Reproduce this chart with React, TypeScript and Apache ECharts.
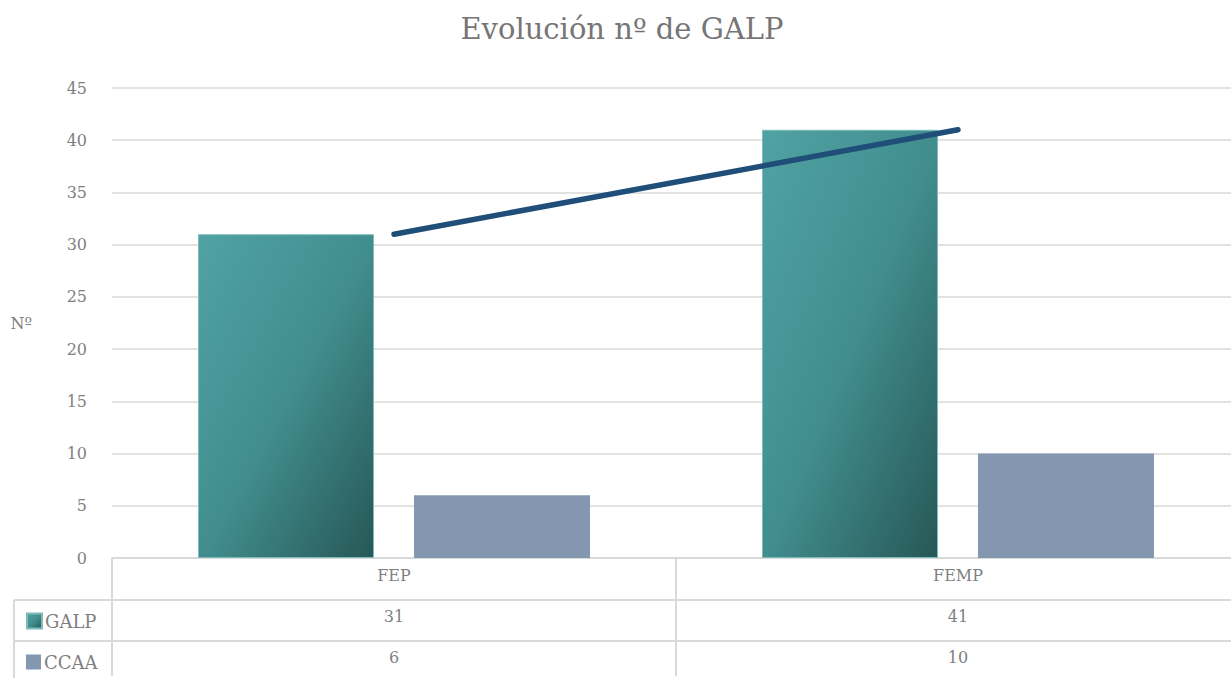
import React, { useEffect, useRef } from "react";
import * as echarts from "echarts";

const categories = ["FEP", "FEMP"];
const galp = [31, 41];
const ccaa = [6, 10];
const yTicks = { min: 0, max: 45, interval: 5 };

const FONT = "DejaVu Serif";
const GREY = "#7f7f7f";
const BORDER = "#d9d9d9";

export default function App() {
  const ref = useRef<HTMLDivElement>(null);
  useEffect(() => {
    if (!ref.current) return;
    const chart = echarts.init(ref.current, undefined, { renderer: "svg" });
    const galpGrad = new echarts.graphic.LinearGradient(0, 0, 1, 1, [
      { offset: 0, color: "#51a2a3" },
      { offset: 0.5, color: "#428e8f" },
      { offset: 1, color: "#275756" },
    ]);
    const legendBase = {
      orient: "horizontal",
      left: 21,
      itemWidth: 15,
      itemHeight: 15,
      icon: "rect",
      textStyle: { fontFamily: FONT, fontSize: 18, color: GREY, padding: [0, 0, 0, -2] },
    };
    chart.setOption({
      animation: false,
      textStyle: { fontFamily: FONT },
      title: {
        text: "Evolución nº de GALP",
        left: 617,
        textAlign: "center",
        top: 9,
        textStyle: { fontFamily: FONT, fontSize: 29, fontWeight: "normal", color: "#767676" },
      },
      grid: { left: 112, top: 88, bottom: 118, right: 0 },
      legend: [
        { ...legendBase, data: ["GALP"], top: 607 },
        { ...legendBase, data: ["CCAA"], top: 648 },
      ],
      xAxis: {
        type: "category",
        data: categories,
        axisLine: { lineStyle: { color: BORDER, width: 2 } },
        axisTick: { show: true, length: 118, lineStyle: { color: BORDER, width: 2 } },
        axisLabel: {
          margin: -3,
          lineHeight: 41,
          fontSize: 16,
          color: GREY,
          fontFamily: FONT,
          formatter: (v: string, i: number) => [v, String(galp[i]), String(ccaa[i])].join("\n"),
        },
      },
      yAxis: {
        type: "value",
        min: yTicks.min,
        max: yTicks.max,
        interval: yTicks.interval,
        name: "Nº",
        nameLocation: "middle",
        nameRotate: 0,
        nameGap: 80,
        nameTextStyle: { fontFamily: FONT, fontSize: 16, color: GREY },
        axisLine: { show: false },
        axisTick: { show: false },
        axisLabel: { margin: 25, fontSize: 16, color: GREY, fontFamily: FONT },
        splitLine: { lineStyle: { color: BORDER, width: 1.5 } },
      },
      series: [
        {
          name: "GALP",
          type: "bar",
          data: galp,
          barWidth: 176,
          barGap: "22.7%",
          itemStyle: { color: galpGrad, borderColor: "#7dbcbc", borderWidth: 1 },
        },
        {
          name: "CCAA",
          type: "bar",
          data: ccaa,
          barWidth: 176,
          itemStyle: { color: "#8497b0" },
        },
        {
          name: "Tendencia",
          type: "line",
          data: galp,
          symbol: "none",
          z: 5,
          lineStyle: { color: "#1f4e79", width: 5.5, cap: "round" },
        },
      ],
      graphic: [
        { type: "line", shape: { x1: 14, y1: 600, x2: 1240, y2: 600 }, style: { stroke: BORDER, lineWidth: 2 } },
        { type: "line", shape: { x1: 14, y1: 641, x2: 1240, y2: 641 }, style: { stroke: BORDER, lineWidth: 2 } },
        { type: "line", shape: { x1: 14, y1: 600, x2: 14, y2: 678 }, style: { stroke: BORDER, lineWidth: 2 } },
      ],
    });
    return () => chart.dispose();
  }, []);
  return (
    <div
      ref={ref}
      style={{ position: "fixed", left: 0, top: 0, width: 1240, height: 678, background: "#fff" }}
    />
  );
}
